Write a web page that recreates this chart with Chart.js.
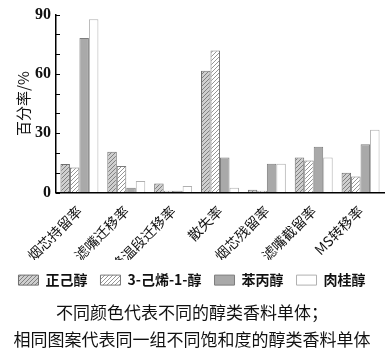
<!DOCTYPE html>
<html><head><meta charset="utf-8">
<script src="https://cdn.jsdelivr.net/npm/chart.js@4/dist/chart.umd.min.js"></script>
<style>html,body{margin:0;padding:0;background:#fff;}#wrap{width:392px;height:357px;}</style>
</head><body><div id="wrap"><canvas id="c" width="392" height="357"></canvas></div>
<script>
const categories = ['烟芯持留率','滤嘴迁移率','降温段迁移率','散失率','烟芯残留率','滤嘴截留率','MS转移率'];
const seriesNames = ['正己醇','3-己烯-1-醇','苯丙醇','肉桂醇'];
const zhengjichun = [14.5, 20.7, 4.6, 61.6, 1.4, 17.8, 10.0];
const jixichun = [12.7, 13.5, 0.9, 71.9, 0.9, 16.2, 8.1];
const benbingchun = [78.2, 2.5, 0.9, 17.8, 14.6, 23.2, 24.4];
const rouguichun = [87.7, 5.9, 3.4, 2.4, 14.6, 17.8, 31.8];
const yTicksLabelled = [0, 30, 60, 90];
const captionLines = ['不同颜色代表不同的醇类香料单体；','相同图案代表同一组不同饱和度的醇类香料单体'];

const canvas = document.getElementById('c');
const ctx = canvas.getContext('2d');
function hatch(bg, line){
  const s = 4;
  const c = document.createElement('canvas'); c.width = s; c.height = s;
  const g = c.getContext('2d');
  g.fillStyle = bg; g.fillRect(0,0,s,s);
  g.strokeStyle = line; g.lineWidth = 0.9;
  g.beginPath();
  g.moveTo(0,s); g.lineTo(s,0);
  g.moveTo(-1,1); g.lineTo(1,-1);
  g.moveTo(s-1,s+1); g.lineTo(s+1,s-1);
  g.stroke();
  return ctx.createPattern(c,'repeat');
}
const fills = [hatch('#cfcfcf','#767676'), hatch('#ffffff','#8a8a8a'), '#a9a9a9', '#ffffff'];
const borders = ['#6f6f6f','#7a7a7a','#7d7d7d','#b0b0b0'];
const dataArr = [zhengjichun, jixichun, benbingchun, rouguichun];

const innerTicks = {
  id:'innerTicks',
  afterDraw(chart){
    const y = chart.scales.y, c = chart.ctx;
    c.save(); c.strokeStyle = '#000'; c.lineWidth = 1;
    y.ticks.forEach(t => {
      const py = Math.round(y.getPixelForValue(t.value)) + 0.5;
      c.beginPath(); c.moveTo(y.right, py); c.lineTo(y.right + 4, py); c.stroke();
    });
    c.restore();
  }
};

new Chart(ctx, {
  type:'bar',
  data:{
    labels: categories,
    datasets: seriesNames.map((n,i)=>({
      label:n, data:dataArr[i], backgroundColor:fills[i], borderColor:borders[i], borderWidth:1,
      categoryPercentage:0.81, barPercentage:1.0
    }))
  },
  options:{
    responsive:false, animation:false, devicePixelRatio:1,
    layout:{padding:{top:12,right:8,left:0,bottom:3.5}},
    plugins:{
      tooltip:{enabled:false},
      legend:{
        position:'bottom',
        labels:{boxWidth:20, boxHeight:10, padding:13, color:'#111',
          font:{family:'"Noto Sans CJK SC"', size:14, weight:'bold'}}
      },
      title:{
        display:true, position:'bottom', text:captionLines, color:'#111',
        padding:{top:2,bottom:0},
        font:{family:'"Noto Sans CJK SC"', size:17, weight:'normal', lineHeight:1.6}
      }
    },
    scales:{
      x:{
        grid:{display:false},
        border:{display:true,color:'#000',width:1.5},
        ticks:{minRotation:45,maxRotation:45,autoSkip:false,padding:2,color:'#111',
          font:{family:'"Noto Sans CJK SC"', size:14}},
        afterFit(s){ s.height = 67.5; }
      },
      y:{
        min:0,max:90,
        grid:{display:true,drawOnChartArea:false,drawTicks:false},
        border:{display:true,color:'#000',width:1.5},
        ticks:{stepSize:10,autoSkip:false,padding:5,color:'#111',
          font:{family:'"Liberation Serif"', size:16, weight:'bold'},
          callback:(v)=> yTicksLabelled.includes(v) ? v : ''},
        title:{display:true,text:'百分率/%',color:'#111',padding:{top:14,bottom:0},
          font:{family:'"Noto Sans CJK SC"', size:15}},
        afterFit(s){ s.width = 56; }
      }
    }
  },
  plugins:[innerTicks]
});
</script></body></html>
